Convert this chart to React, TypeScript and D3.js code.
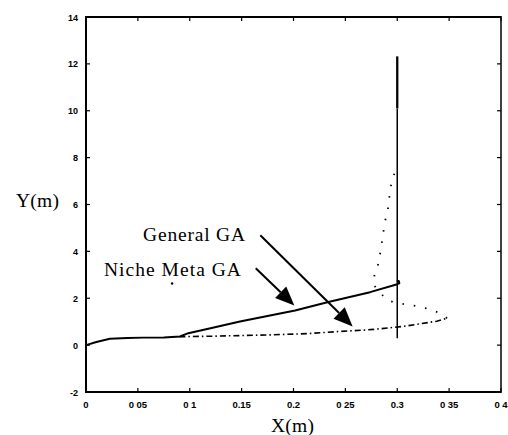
import React from "react";
import * as d3 from "d3";

// tick labels as printed (scan dropped some decimal points)
const xTicks = [0, 0.05, 0.1, 0.15, 0.2, 0.25, 0.3, 0.35, 0.4];
const xTickLabels = ["0", "0 05", "0 1", "0.15", "0.2", "0 25", "0.3", "0 35", "0 4"];
const yTicks = [-2, 0, 2, 4, 6, 8, 10, 12, 14];
const yTickLabels = ["-2", "0", "2", "4", "6", "8", "10", "12", "14"];

// General GA path (solid)
const generalX = [0, 0.01, 0.023, 0.04, 0.055, 0.075, 0.0906, 0.0986, 0.12, 0.1484, 0.2015, 0.2336, 0.2738, 0.3, 0.302, 0.3015, 0.2995];
const generalY = [0, 0.13, 0.27, 0.3, 0.32, 0.33, 0.37, 0.51, 0.72, 1.01, 1.48, 1.84, 2.26, 2.6, 2.64, 2.74, 2.72];

// vertical solid segment at x = 0.3
const vertThinY = [0.29, 10.1];
const vertThickY = [10.1, 12.32];

// Niche Meta GA path: dash-dot outbound, dotted return
const nicheOutX = [0.09, 0.12, 0.151, 0.18, 0.213, 0.24, 0.267, 0.277, 0.293, 0.306, 0.322, 0.338, 0.348];
const nicheOutY = [0.36, 0.38, 0.41, 0.44, 0.49, 0.57, 0.64, 0.67, 0.74, 0.8, 0.91, 1.02, 1.15];
const nicheBackX = [0.348, 0.341, 0.33, 0.316, 0.304, 0.297, 0.291, 0.286, 0.28, 0.277, 0.278, 0.282, 0.284, 0.286, 0.288, 0.291, 0.292, 0.294, 0.298];
const nicheBackY = [1.15, 1.37, 1.55, 1.69, 1.77, 1.83, 1.91, 2.12, 2.4, 2.62, 2.97, 3.5, 4.05, 4.62, 5.26, 5.75, 6.2, 6.81, 7.45];

// annotations (data coordinates)
const labelText = ["General GA", "Niche Meta GA"];
const labelX = [0.055, 0.0173];
const labelY = [4.46, 2.97];
const labelWidth = [102, 137];
const arrowFromX = [0.168, 0.1636];
const arrowFromY = [4.69, 3.28];
const arrowToX = [0.257, 0.2008];
const arrowToY = [0.8, 1.69];

const W = 508;
const H = 435;

const App = () => {
  const x = d3.scaleLinear().domain([0, 0.4]).range([86, 501]);
  const y = d3.scaleLinear().domain([-2, 14]).range([392, 17]);

  const line = d3
    .line<[number, number]>()
    .x((d) => x(d[0]))
    .y((d) => y(d[1]))
    .curve(d3.curveLinear);

  const zip = (xs: number[], ys: number[]) => xs.map((v, i) => [v, ys[i]] as [number, number]);

  const serif = "'Liberation Serif', 'Times New Roman', serif";
  const sans = "'Liberation Sans', Arial, sans-serif";

  const arrowHead = (i: number) => {
    const x1 = x(arrowFromX[i]);
    const y1 = y(arrowFromY[i]);
    const x2 = x(arrowToX[i]);
    const y2 = y(arrowToY[i]);
    const ang = Math.atan2(y2 - y1, x2 - x1);
    const len = 19;
    const half = 8;
    const bx = x2 - len * Math.cos(ang);
    const by = y2 - len * Math.sin(ang);
    const px = -Math.sin(ang) * half;
    const py = Math.cos(ang) * half;
    return {
      shaft: `M${x1},${y1}L${bx},${by}`,
      head: `M${x2},${y2}L${bx + px},${by + py}L${bx - px},${by - py}Z`,
    };
  };

  return (
    <svg width={W} height={H} style={{ position: "absolute", left: 0, top: 0, background: "#fff" }}>
      <rect width={W} height={H} fill="#fff" />

      {/* frame */}
      <line x1={x(0)} x2={x(0.4)} y1={y(14)} y2={y(14)} stroke="#000" strokeWidth={2} />
      <line x1={x(0)} x2={x(0.4)} y1={y(-2)} y2={y(-2)} stroke="#000" strokeWidth={2} />
      <line x1={x(0)} x2={x(0)} y1={y(14) - 1} y2={y(-2) + 1} stroke="#000" strokeWidth={2} />
      <line x1={x(0.4)} x2={x(0.4)} y1={y(14) - 1} y2={y(-2) + 1} stroke="#000" strokeWidth={1.5} />

      {/* ticks */}
      {xTicks.map((t, i) => (
        <g key={"xt" + i}>
          <line x1={x(t)} x2={x(t)} y1={y(-2)} y2={y(-2) - 4} stroke="#000" strokeWidth={1.2} />
          <line x1={x(t)} x2={x(t)} y1={y(14)} y2={y(14) + 4} stroke="#000" strokeWidth={1.2} />
          <text x={x(t)} y={y(-2) + 16} textAnchor="middle" fontFamily={sans} fontWeight="bold" fontSize={9.5} fill="#000">
            {xTickLabels[i]}
          </text>
        </g>
      ))}
      {yTicks.map((t, i) => (
        <g key={"yt" + i}>
          <line x1={x(0)} x2={x(0) + 4} y1={y(t)} y2={y(t)} stroke="#000" strokeWidth={1.2} />
          <line x1={x(0.4)} x2={x(0.4) - 4} y1={y(t)} y2={y(t)} stroke="#000" strokeWidth={1.2} />
          <text x={x(0) - 8} y={y(t) + 3.5} textAnchor="end" fontFamily={sans} fontWeight="bold" fontSize={9} fill="#000">
            {yTickLabels[i]}
          </text>
        </g>
      ))}

      {/* General GA */}
      <path d={line(zip(generalX, generalY)) || ""} fill="none" stroke="#000" strokeWidth={2} strokeLinejoin="round" />
      <path d={line(zip([0.3, 0.3], vertThinY)) || ""} fill="none" stroke="#000" strokeWidth={1.5} />
      <path d={line(zip([0.3, 0.3], vertThickY)) || ""} fill="none" stroke="#000" strokeWidth={2.3} />

      {/* Niche Meta GA */}
      <path d={line(zip(nicheOutX, nicheOutY)) || ""} fill="none" stroke="#000" strokeWidth={1.6} strokeDasharray="6,3,1.5,3" />
      <path d={line(zip(nicheBackX, nicheBackY)) || ""} fill="none" stroke="#000" strokeWidth={1.8} strokeDasharray="1.5,10" />

      {/* annotations */}
      {labelText.map((t, i) => (
        <text
          key={"lb" + i}
          x={x(labelX[i])}
          y={y(labelY[i])}
          fontFamily={serif}
          fontSize={19.5}
          fill="#000"
          textLength={labelWidth[i]}
          lengthAdjust="spacing"
        >
          {t}
        </text>
      ))}
      {labelText.map((_, i) => {
        const a = arrowHead(i);
        return (
          <g key={"ar" + i}>
            <path d={a.shaft} stroke="#000" strokeWidth={2} fill="none" />
            <path d={a.head} fill="#000" />
          </g>
        );
      })}
      <circle cx={x(0.083)} cy={y(2.63)} r={1.2} fill="#000" />

      {/* axis titles */}
      <text x={16} y={207} fontFamily={serif} fontSize={19.5} fill="#000" textLength={43} lengthAdjust="spacing">Y(m)</text>
      <text x={271} y={432} fontFamily={serif} fontSize={19.5} fill="#000" textLength={43} lengthAdjust="spacing">X(m)</text>
    </svg>
  );
};

export default App;
